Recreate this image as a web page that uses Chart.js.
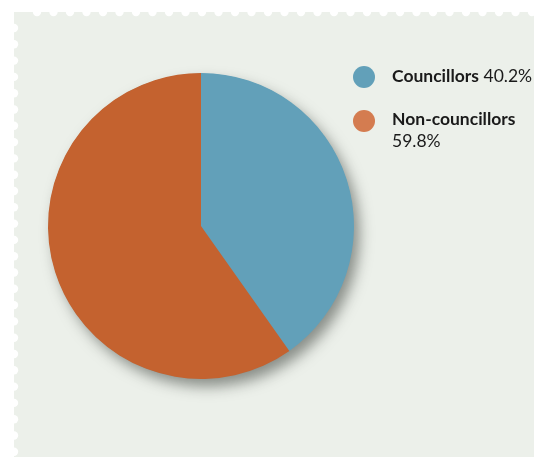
<!DOCTYPE html>
<html lang="en">
<head>
    <meta charset="UTF-8">
    <title>Councillors share</title>
    <script src="https://cdn.jsdelivr.net/npm/chart.js"></script>
    <style>
        body {
            margin: 0;
            padding: 0;
            background-color: #ffffff;
        }
        #wrap {
            width: 534px;
            height: 457px;
        }
    </style>
</head>
<body>
<div id="wrap">
    <canvas id="pie" width="534" height="457"></canvas>
</div>

<script>
    // Share of members
    const categories = ['Councillors', 'Non-councillors'];
    const shares = [40.2, 59.8];
    const sliceColors = ['#62a0b9', '#c4622f'];
    const legendColors = ['#62a0b9', '#d47c50'];

    const PANEL_BG = '#ecf0ea';

    // panel with stamp-like perforated top and left edges
    const panelPlugin = {
        id: 'panel',
        beforeDraw(chart) {
            const ctx = chart.ctx;
            const W = chart.width, H = chart.height;
            const left = 14, top = 12;
            ctx.save();
            ctx.fillStyle = '#ffffff';
            ctx.fillRect(0, 0, W, H);
            ctx.fillStyle = PANEL_BG;
            ctx.fillRect(left, top, W - left, H - top);
            ctx.fillStyle = '#ffffff';
            for (let x = 37; x < W + 5; x += 16.5) {
                ctx.beginPath();
                ctx.arc(x, top, 4.2, 0, Math.PI * 2);
                ctx.fill();
            }
            for (let y = 28; y < H + 5; y += 16.3) {
                ctx.beginPath();
                ctx.arc(left, y, 4.2, 0, Math.PI * 2);
                ctx.fill();
            }
            ctx.restore();
        },
        // soft drop shadow under the whole pie
        beforeDatasetsDraw(chart) {
            const arc = chart.getDatasetMeta(0).data[0];
            if (!arc) return;
            const ctx = chart.ctx;
            ctx.save();
            ctx.shadowColor = 'rgba(40, 45, 40, 0.5)';
            ctx.shadowBlur = 14;
            ctx.shadowOffsetX = 6;
            ctx.shadowOffsetY = 8;
            ctx.fillStyle = sliceColors[0];
            ctx.beginPath();
            ctx.arc(arc.x, arc.y, arc.outerRadius - 0.5, 0, Math.PI * 2);
            ctx.fill();
            ctx.restore();
        }
    };

    // legend: coloured dot, bold name, value after it (wrapped if too wide)
    const legendPlugin = {
        id: 'sideLegend',
        afterDraw(chart) {
            const ctx = chart.ctx;
            const dotX = 364, textX = 392;
            const rows = [82, 125];
            const dotY = [77, 121];
            ctx.save();
            ctx.textBaseline = 'alphabetic';
            categories.forEach((name, i) => {
                ctx.fillStyle = legendColors[i];
                ctx.beginPath();
                ctx.arc(dotX, dotY[i], 11, 0, Math.PI * 2);
                ctx.fill();

                ctx.fillStyle = '#1a1a1a';
                ctx.font = 'bold 17.5px Lato';
                ctx.fillText(name, textX, rows[i]);
                const nameW = ctx.measureText(name).width;
                const value = shares[i].toFixed(1) + '%';
                ctx.font = '17.5px Lato';
                const valW = ctx.measureText(' ' + value).width;
                if (textX + nameW + valW > 545) {
                    ctx.fillText(value, textX, rows[i] + 22);
                } else {
                    ctx.fillText(' ' + value, textX + nameW, rows[i]);
                }
            });
            ctx.restore();
        }
    };

    const ctx = document.getElementById('pie').getContext('2d');
    new Chart(ctx, {
        type: 'pie',
        data: {
            labels: categories,
            datasets: [{
                data: shares,
                backgroundColor: sliceColors,
                borderWidth: 0
            }]
        },
        options: {
            responsive: false,
            animation: false,
            layout: {
                padding: { left: 48, top: 73, right: 180, bottom: 78 }
            },
            plugins: {
                legend: { display: false },
                tooltip: { enabled: false }
            }
        },
        plugins: [panelPlugin, legendPlugin]
    });
</script>
</body>
</html>
